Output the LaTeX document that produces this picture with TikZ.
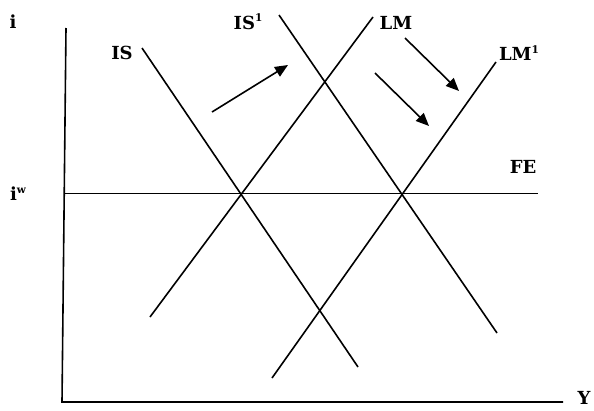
\documentclass[tikz,border=0pt]{standalone}
\usepackage{fontspec}
\setmainfont{DejaVu Serif}
\usetikzlibrary{arrows.meta}
\newcommand{\upmark}[1]{\raisebox{0.42em}{\fontsize{10.5}{10.5}\selectfont #1}}
\begin{document}
\begin{tikzpicture}[x=1pt,y=-1pt,
  curve/.style={line width=1.6pt},
  axis/.style={line width=1.6pt},
  level/.style={line width=1pt},
  shift arrow/.style={line width=1.6pt,-{Triangle[length=13pt,width=11pt]}},
  lbl/.style={font=\bfseries\fontsize{18}{18}\selectfont,inner sep=0pt}]
\useasboundingbox (0,0) rectangle (594,410);
% axes
\coordinate (ytop) at (66,28);
\coordinate (origin) at (62,402);
\coordinate (xend) at (563,402);
\draw[axis] (ytop) -- (origin) -- (xend);
\node[lbl] (ilab) at (13,22) {i};
\node[lbl] (ylab) at (584,398) {Y};
% world interest rate / full employment line
\coordinate (fe0) at (64,193);
\coordinate (fe1) at (538,193);
\draw[level] (fe0) -- (fe1);
\node[lbl] (iwlab) at (18,194) {i\upmark{w}};
\node[lbl] (felab) at (523,167) {FE};
% IS curves
\coordinate (is0) at (142,48);
\coordinate (is1) at (358,367);
\coordinate (isb0) at (279,15);
\coordinate (isb1) at (497,333);
\draw[curve] (is0) -- (is1);
\draw[curve] (isb0) -- (isb1);
\node[lbl] (islab) at (122,53) {IS};
\node[lbl] (isblab) at (248,22) {IS\upmark{1}};
% LM curves
\coordinate (lm0) at (150,317);
\coordinate (lm1) at (373,17);
\coordinate (lmb0) at (272,378);
\coordinate (lmb1) at (496,62);
\draw[curve] (lm0) -- (lm1);
\draw[curve] (lmb0) -- (lmb1);
\node[lbl] (lmlab) at (396,23) {LM};
\node[lbl] (lmblab) at (519,53) {LM\upmark{1}};
% shift arrows
\coordinate (a0) at (212,112);
\coordinate (a1) at (288,65);
\coordinate (b0) at (405,38);
\coordinate (b1) at (459,91);
\coordinate (c0) at (375,73);
\coordinate (c1) at (429,126);
\draw[shift arrow] (a0) -- (a1);
\draw[shift arrow] (b0) -- (b1);
\draw[shift arrow] (c0) -- (c1);
\end{tikzpicture}
\end{document}
